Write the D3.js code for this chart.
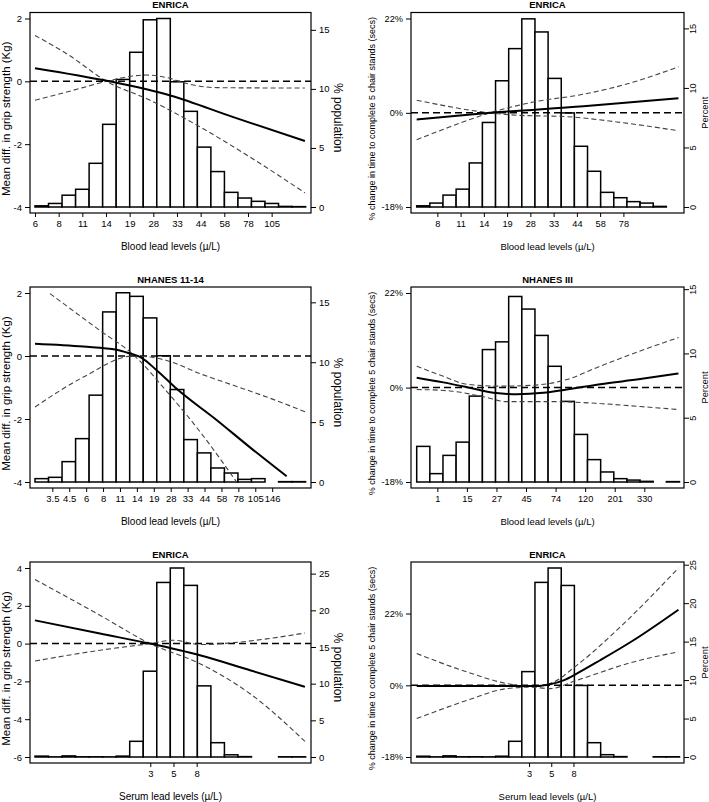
<!DOCTYPE html>
<html>
<head>
<meta charset="utf-8">
<script src="https://cdn.jsdelivr.net/npm/d3@7"></script>
<style>
  body { margin: 0; background: #fff; }
  text { font-family: "Liberation Sans", Arial, sans-serif; fill: #000; }
</style>
</head>
<body>
<script>
// histogram heights (% of sample), 20 equal bins on log(lead) scale
const p1Bars = [0.1, 0.3, 1.0, 1.5, 3.7, 7.0, 10.8, 13.1, 15.85, 15.96, 10.6, 8.1, 5.07, 3.0, 1.24, 0.76, 0.48, 0.3, 0.05, 0.03];
const p2Bars = [0.1, 0.33, 1.0, 1.5, 3.7, 7.1, 10.6, 13.3, 15.8, 14.7, 10.8, 7.9, 5.1, 3.0, 1.23, 0.78, 0.45, 0.33, 0.05, 0];
const p3Bars = [0.28, 0.39, 1.7, 3.62, 7.25, 14.2, 15.8, 15.5, 13.7, 10.54, 7.72, 3.54, 2.43, 1.17, 0.75, 0.22, 0.28, 0, 0.03, 0.03];
const p4Bars = [2.77, 0.65, 2.07, 3.1, 6.68, 10.3, 10.9, 14.43, 13.45, 11.4, 9.0, 6.27, 3.7, 1.74, 0.78, 0.26, 0.15, 0.05, 0, 0.03];
const p5Bars = [0.12, 0.02, 0.15, 0.03, 0.03, 0.02, 0.12, 2.14, 11.7, 23.8, 25.77, 23.4, 9.7, 1.95, 0.3, 0.05, 0, 0, 0.03, 0.03];
const p6Bars = [0.1, 0.02, 0.15, 0.03, 0.03, 0.02, 0.1, 2.04, 11.1, 22.7, 24.57, 22.3, 9.3, 1.86, 0.3, 0.05, 0, 0, 0.03, 0.03];

// x tick labels
const p1Ticks = ['6', '8', '11', '14', '19', '28', '33', '44', '58', '78', '105'];
const p2Ticks = ['8', '11', '14', '19', '28', '33', '44', '58', '78'];
const p3Ticks = ['3.5', '4.5', '6', '8', '11', '14', '19', '28', '33', '44', '58', '78', '105', '146'];
const p4Ticks = ['1', '15', '27', '45', '74', '120', '201', '330'];
const p5Ticks = ['3', '5', '8'];
const p6Ticks = ['3', '5', '8'];

// curves: [bin position, value]  (grip: Kg, chair stands: % change)
const p1Est = [[0, 0.42], [5.5, 0], [10, -0.45], [14.66, -1.14], [19.95, -1.9]];
const p1CiA = [[0, 1.46], [2.34, 0.88], [5.3, 0], [8.5, -0.6], [12.19, -1.45], [15.89, -2.41], [19.95, -3.55]];
const p1CiB = [[0, -0.6], [2.34, -0.34], [5.3, 0], [6.77, 0.14], [8.25, 0.2], [9.73, 0.12], [11.21, -0.07], [13.42, -0.2], [17.12, -0.21], [19.95, -0.21]];

const p2Est = [[0, -1.4], [5.58, 0], [12.69, 1.4], [19.92, 3.1]];
const p2CiA = [[0, -5.5], [2.54, -2.9], [5.58, 0], [8.88, 2.3], [12.69, 4.0], [16.5, 6.7], [19.92, 10.2]];
const p2CiB = [[0, 2.7], [5.58, 0], [7.61, -0.5], [11.42, -0.8], [15.23, -1.9], [19.92, -3.7]];

const p3Est = [[0, 0.39], [3.57, 0.3], [6.03, 0.2], [7.02, 0.08], [7.76, -0.03], [8.99, -0.45], [10.47, -1.04], [13.42, -2.03], [15.89, -2.9], [18.6, -3.82]];
const p3CiA = [[1.11, 1.98], [4.8, 0.81], [7.27, 0.04], [9.73, -1.12], [12.19, -2.4], [14.9, -4.0]];
const p3CiB = [[0, -1.62], [3.57, -0.67], [7.27, 0], [9.73, -0.14], [12.19, -0.56], [14.66, -0.93], [17.12, -1.3], [20.02, -1.78]];

const p4Est = [[0, 2.1], [2.03, 1.1], [3.81, 0.1], [5.84, -1.1], [7.61, -1.4], [9.64, -1.1], [11.42, -0.4], [13.96, 0.7], [17.01, 1.8], [19.92, 3.0]];
const p4CiA = [[0, 4.6], [2.03, 2.4], [3.81, 0.7], [6.35, 0.3], [8.88, 0.5], [11.42, 1.7], [13.96, 4.6], [17.01, 8.0], [19.92, 11.1]];
const p4CiB = [[0, -0.4], [2.54, -0.7], [5.08, -1.9], [6.85, -2.9], [10.15, -2.9], [13.96, -3.3], [17.01, -3.9], [19.92, -4.5]];

const p5Est = [[0, 1.23], [4.8, 0.53], [8.5, 0], [12.19, -0.62], [15.89, -1.41], [19.95, -2.29]];
const p5CiA = [[0, 3.39], [4.8, 1.5], [8.5, 0], [12.19, -1.06], [15.89, -2.65], [19.95, -5.17]];
const p5CiB = [[0, -0.92], [4.8, -0.35], [8.5, 0], [10.22, 0.18], [12.19, -0.05], [14.66, 0.05], [17.12, 0.25], [19.95, 0.56]];

const p6Est = [[0, -0.2], [9.14, -0.2], [10.15, 0.3], [11.17, 1.4], [12.18, 3.3], [13.96, 7.2], [16.5, 13.3], [19.92, 23.3]];
const p6CiA = [[0, 9.2], [3.81, 3.8], [6.85, 0.5], [8.63, -0.3], [10.15, 0.5], [12.18, 5.7], [15.23, 16.5], [19.92, 38.4]];
const p6CiB = [[0, -8.8], [3.81, -4.1], [6.85, -0.9], [8.63, -0.5], [10.15, -0.9], [12.18, 1.4], [16.5, 6.7], [19.92, 9.7]];

// y tick values
const gripTicks = [-4, -2, 0, 2];
const gripTicksWide = [-6, -4, -2, 0, 2, 4];
const chairTicks = [-18, 0, 22];
const pctTicks = [0, 5, 10, 15];
const pctTicksWide = [0, 5, 10, 15, 20, 25];

const width = 709;
const height = 802;

const svg = d3.select('body').append('svg')
  .attr('width', width)
  .attr('height', height);

const font = '"Liberation Sans", Arial, sans-serif';

// layout of the 3x2 grid
const cols = [
  { x0: 30, x1: 311, binStart: 35, binW: 13.53, tickFont: 9.5, xTitleFont: 10 },
  { x0: 411, x1: 684, binStart: 416.7, binW: 13.14, tickFont: 9.2, xTitleFont: 9.5 }
];
const rows = [
  { y0: 12.5, y1: 213 },
  { y0: 287, y1: 488 },
  { y0: 562, y1: 763 }
];

const gripTitle = 'Mean diff. in grip strength (Kg)';
const chairTitle = '% change in time to complete 5 chair stands (secs)';
const bloodTitle = 'Blood lead levels (\u00b5/L)';
const serumTitle = 'Serum lead levels (\u00b5/L)';

const panels = [
  { col: 0, row: 0, title: 'ENRICA', xTitle: bloodTitle, bars: p1Bars, ticks: p1Ticks, tick0: 0, tickStep: 1.749,
    est: p1Est, ciA: p1CiA, ciB: p1CiB, pct: false, left: [-4, 2], leftTicks: gripTicks, rightMax: 15.96, rightTicks: pctTicks },
  { col: 1, row: 0, title: 'ENRICA', xTitle: bloodTitle, bars: p2Bars, ticks: p2Ticks, tick0: 1.57, tickStep: 1.77,
    est: p2Est, ciA: p2CiA, ciB: p2CiB, pct: true, left: [-18, 22], leftTicks: chairTicks, rightMax: 15.83, rightTicks: pctTicks },
  { col: 0, row: 1, title: 'NHANES 11-14', xTitle: bloodTitle, bars: p3Bars, ticks: p3Ticks, tick0: 1.28, tickStep: 1.25,
    est: p3Est, ciA: p3CiA, ciB: p3CiB, pct: false, left: [-4, 2], leftTicks: gripTicks, rightMax: 15.78, rightTicks: pctTicks },
  { col: 1, row: 1, title: 'NHANES III', xTitle: bloodTitle, bars: p4Bars, ticks: p4Ticks, tick0: 1.57, tickStep: 2.25,
    est: p4Est, ciA: p4CiA, ciB: p4CiB, pct: true, left: [-18, 22], leftTicks: chairTicks, rightMax: 14.7, rightTicks: pctTicks },
  { col: 0, row: 2, title: 'ENRICA', xTitle: serumTitle, bars: p5Bars, ticks: p5Ticks, tick0: 8.52, tickStep: 1.715,
    est: p5Est, ciA: p5CiA, ciB: p5CiB, pct: false, left: [-6, 4], leftTicks: gripTicksWide, rightMax: 25.77, rightTicks: pctTicksWide },
  { col: 1, row: 2, title: 'ENRICA', xTitle: serumTitle, bars: p6Bars, ticks: p6Ticks, tick0: 8.55, tickStep: 1.69,
    est: p6Est, ciA: p6CiA, ciB: p6CiB, pct: true, left: [-18, 38.4], leftTicks: chairTicks, rightMax: 24.57, rightTicks: pctTicksWide }
];

function styleAxis(sel, size) {
  sel.attr('font-family', font).attr('font-size', size);
  sel.select('.domain').remove();
  sel.selectAll('line').attr('stroke', '#000').attr('stroke-width', 1);
}

function drawPanel(p) {
  const c = cols[p.col];
  const r = rows[p.row];
  const g = svg.append('g');

  const x = d3.scaleLinear()
    .domain([0, 20])
    .range([c.binStart, c.binStart + 20 * c.binW]);

  // left axis: linear for Kg, log ratio for % change
  const yL = p.pct
    ? d3.scaleLog().domain([1 + p.left[0] / 100, 1 + p.left[1] / 100])
    : d3.scaleLinear().domain(p.left);
  yL.range([r.y1 - 6, r.y0 + 6]);
  const yVal = p.pct ? v => yL(1 + v / 100) : v => yL(v);

  const yR = d3.scaleLinear()
    .domain([0, p.rightMax])
    .range([r.y1 - 6, r.y0 + 6]);

  // histogram
  g.selectAll('.bar')
    .data(p.bars.map((v, i) => ({ v, i })).filter(d => d.v > 0))
    .join('rect')
    .attr('class', 'bar')
    .attr('x', d => x(d.i))
    .attr('width', d => x(d.i + 1) - x(d.i))
    .attr('y', d => yR(d.v))
    .attr('height', d => yR(0) - yR(d.v))
    .attr('fill', '#fff')
    .attr('stroke', '#000')
    .attr('stroke-width', 1.5);

  // reference line
  g.append('line')
    .attr('x1', c.x0).attr('x2', c.x1)
    .attr('y1', yVal(0)).attr('y2', yVal(0))
    .attr('stroke', '#000')
    .attr('stroke-width', 1.5)
    .attr('stroke-dasharray', '7,4');

  const line = d3.line()
    .x(d => x(d[0]))
    .y(d => yVal(d[1]))
    .curve(d3.curveMonotoneX);

  [p.ciA, p.ciB].forEach(ci => {
    g.append('path')
      .attr('d', line(ci))
      .attr('fill', 'none')
      .attr('stroke', '#444')
      .attr('stroke-width', 1.1)
      .attr('stroke-dasharray', '5,3');
  });

  g.append('path')
    .attr('d', line(p.est))
    .attr('fill', 'none')
    .attr('stroke', '#000')
    .attr('stroke-width', 2);

  // box
  g.append('rect')
    .attr('x', c.x0).attr('y', r.y0)
    .attr('width', c.x1 - c.x0).attr('height', r.y1 - r.y0)
    .attr('fill', 'none')
    .attr('stroke', '#000')
    .attr('stroke-width', 1.2);

  // left axis
  const leftAxis = d3.axisLeft(yL)
    .tickValues(p.pct ? p.leftTicks.map(t => 1 + t / 100) : p.leftTicks)
    .tickFormat(d => p.pct ? Math.round((d - 1) * 100) + '%' : d)
    .tickSize(5)
    .tickPadding(3);
  g.append('g')
    .attr('transform', 'translate(' + c.x0 + ',0)')
    .call(leftAxis)
    .call(styleAxis, c.tickFont);

  // right axis
  const rightAxis = d3.axisRight(yR)
    .tickValues(p.rightTicks)
    .tickSize(5)
    .tickPadding(3);
  const ra = g.append('g')
    .attr('transform', 'translate(' + c.x1 + ',0)')
    .call(rightAxis)
    .call(styleAxis, c.tickFont);
  if (p.col === 1) {
    ra.selectAll('text')
      .attr('transform', 'rotate(-90)')
      .attr('text-anchor', 'middle')
      .attr('x', 0)
      .attr('y', 11.5)
      .attr('dy', 0);
  }

  // bottom axis
  const bottomAxis = d3.axisBottom(x)
    .tickValues(p.ticks.map((t, i) => p.tick0 + i * p.tickStep))
    .tickFormat((d, i) => p.ticks[i])
    .tickSize(4)
    .tickPadding(3);
  g.append('g')
    .attr('transform', 'translate(0,' + r.y1 + ')')
    .call(bottomAxis)
    .call(styleAxis, c.tickFont);

  const cx = (c.x0 + c.x1) / 2;
  const cy = (r.y0 + r.y1) / 2;

  // title
  g.append('text')
    .attr('x', cx)
    .attr('y', r.y0 - 4.5)
    .attr('text-anchor', 'middle')
    .attr('font-size', 9.5)
    .attr('font-weight', 'bold')
    .text(p.title);

  // x title
  g.append('text')
    .attr('x', cx)
    .attr('y', r.y1 + 37)
    .attr('text-anchor', 'middle')
    .attr('font-size', c.xTitleFont)
    .text(p.xTitle);

  if (p.col === 0) {
    g.append('text')
      .attr('transform', 'translate(' + (c.x0 - 20) + ',' + (cy + 6) + ') rotate(-90)')
      .attr('text-anchor', 'middle')
      .attr('font-size', 11.5)
      .text(gripTitle);
    g.append('text')
      .attr('transform', 'translate(' + (c.x1 + 23) + ',' + (cy + 5) + ') rotate(90)')
      .attr('text-anchor', 'middle')
      .attr('font-size', 12)
      .text('% population');
  } else {
    g.append('text')
      .attr('transform', 'translate(' + (c.x0 - 36) + ',' + (cy + 6) + ') rotate(-90)')
      .attr('text-anchor', 'middle')
      .attr('font-size', 9)
      .text(chairTitle);
    g.append('text')
      .attr('transform', 'translate(' + (c.x1 + 24) + ',' + cy + ') rotate(-90)')
      .attr('text-anchor', 'middle')
      .attr('font-size', 9.3)
      .text('Percent');
  }
}

panels.forEach(drawPanel);
</script>
</body>
</html>
